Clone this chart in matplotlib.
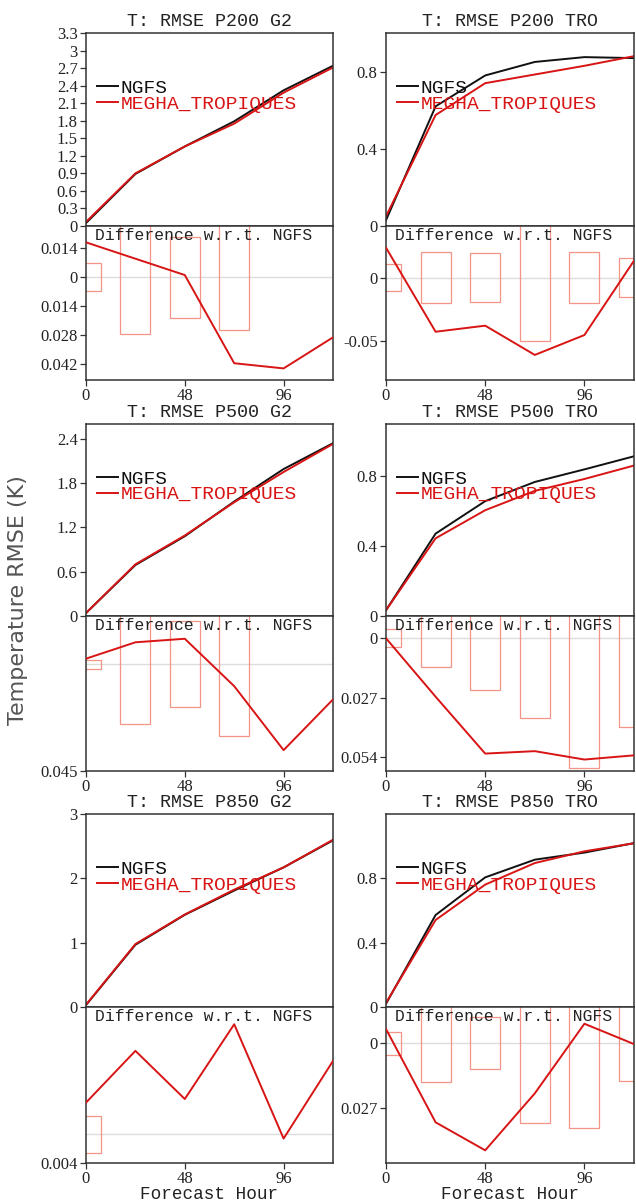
import numpy as np
import matplotlib
matplotlib.use("Agg")
import matplotlib.pyplot as plt

hours = [0, 24, 48, 72, 96, 120]

# RMSE values (K)
ngfs_p200_g2 = [0.05, 0.89, 1.36, 1.79, 2.32, 2.74]
megha_p200_g2 = [0.07, 0.90, 1.36, 1.75, 2.28, 2.71]
ngfs_p200_tro = [0.03, 0.62, 0.78, 0.85, 0.875, 0.87]
megha_p200_tro = [0.05, 0.575, 0.74, 0.785, 0.83, 0.88]
ngfs_p500_g2 = [0.04, 0.69, 1.08, 1.55, 1.99, 2.34]
megha_p500_g2 = [0.04, 0.70, 1.09, 1.54, 1.95, 2.33]
ngfs_p500_tro = [0.033, 0.472, 0.658, 0.768, 0.84, 0.915]
megha_p500_tro = [0.033, 0.445, 0.606, 0.717, 0.785, 0.862]
ngfs_p850_g2 = [0.03, 0.967, 1.433, 1.81, 2.17, 2.59]
megha_p850_g2 = [0.035, 0.978, 1.438, 1.825, 2.17, 2.60]
ngfs_p850_tro = [0.02, 0.572, 0.806, 0.916, 0.96, 1.019]
megha_p850_tro = [0.026, 0.541, 0.761, 0.895, 0.968, 1.018]

# Differences w.r.t. NGFS
diff_p200_g2 = [0.0169, 0.0090, 0.0011, -0.0415, -0.044, -0.029]
diff_p200_tro = [0.0237, -0.0427, -0.0379, -0.061, -0.0453, 0.0134]
diff_p500_g2 = [0.0024, 0.0093, 0.0108, -0.0092, -0.0362, -0.0148]
diff_p500_tro = [0.0, -0.0265, -0.0523, -0.0512, -0.055, -0.0531]
diff_p850_g2 = [0.0044, 0.0116, 0.0049, 0.0153, -0.0006, 0.0102]
diff_p850_tro = [0.0059, -0.0331, -0.0448, -0.021, 0.0081, -0.0004]

# Confidence half-ranges (hollow bars)
ci_p200_g2 = [0.0068, 0.0273, 0.0197, 0.0255, np.nan, np.nan]
ci_p200_tro = [0.0107, 0.0201, 0.0194, 0.0498, 0.0201, 0.0154]
ci_p500_g2 = [0.0018, 0.0251, 0.0182, 0.0303, np.nan, np.nan]
ci_p500_tro = [0.0041, 0.0132, 0.0235, 0.036, 0.059, 0.0401]
ci_p850_g2 = [0.00258, np.nan, np.nan, np.nan, np.nan, np.nan]
ci_p850_tro = [0.0048, 0.0163, 0.0108, 0.0332, 0.0353, 0.0157]

titles = ["T: RMSE P200 G2", "T: RMSE P200 TRO",
          "T: RMSE P500 G2", "T: RMSE P500 TRO",
          "T: RMSE P850 G2", "T: RMSE P850 TRO"]

top_ylims = [(0, 3.3), (0, 1.0), (0, 2.6), (0, 1.1), (0, 3.0), (0, 1.2)]
top_ticks = [[0, 0.3, 0.6, 0.9, 1.2, 1.5, 1.8, 2.1, 2.4, 2.7, 3.0, 3.3],
             [0, 0.4, 0.8],
             [0, 0.6, 1.2, 1.8, 2.4],
             [0, 0.4, 0.8],
             [0, 1, 2, 3],
             [0, 0.4, 0.8]]
diff_ylims = [(-0.0496, 0.0248), (-0.0808, 0.0408), (-0.045, 0.0204),
              (-0.0602, 0.0101), (-0.004, 0.0177), (-0.0501, 0.0151)]
diff_ticks = [[0.014, 0, -0.014, -0.028, -0.042], [0, -0.05], [-0.045],
              [0, -0.027, -0.054], [-0.004], [0, -0.027]]
diff_ticklabels = [["0.014", "0", "0.014", "0.028", "0.042"], ["0", "-0.05"], ["0.045"],
                   ["0", "0.027", "0.054"], ["0.004"], ["0", "0.027"]]

ngfs_all = [ngfs_p200_g2, ngfs_p200_tro, ngfs_p500_g2, ngfs_p500_tro, ngfs_p850_g2, ngfs_p850_tro]
megha_all = [megha_p200_g2, megha_p200_tro, megha_p500_g2, megha_p500_tro, megha_p850_g2, megha_p850_tro]
diff_all = [diff_p200_g2, diff_p200_tro, diff_p500_g2, diff_p500_tro, diff_p850_g2, diff_p850_tro]
ci_all = [ci_p200_g2, ci_p200_tro, ci_p500_g2, ci_p500_tro, ci_p850_g2, ci_p850_tro]

W, H = 636, 1203
fig = plt.figure(figsize=(W / 100, H / 100), dpi=100)
fig.patch.set_facecolor("white")

col_x = [(86, 333), (386, 634)]
row_y = [(33, 226, 380), (424, 616, 771), (814, 1007, 1163)]

MONO = "Liberation Mono"
SERIF = "Liberation Serif"
RED = "#d81414"
BLACK = "#111111"
FRAME = "#333333"
BARC = "#f29486"


def rect(x0, x1, y0, y1):
    return [x0 / W, 1 - y1 / H, (x1 - x0) / W, (y1 - y0) / H]


def style(ax):
    for s in ax.spines.values():
        s.set_color(FRAME)
        s.set_linewidth(1.1)
    ax.tick_params(axis="both", direction="out", length=4, width=0.9, color=FRAME,
                   labelsize=12, pad=2)
    for lab in ax.get_xticklabels() + ax.get_yticklabels():
        lab.set_fontfamily(SERIF)
        lab.set_color("#222222")


for i in range(6):
    r, c = divmod(i, 2)
    x0, x1 = col_x[c]
    yt, ym, yb = row_y[r]
    ax = fig.add_axes(rect(x0, x1, yt, ym))
    axd = fig.add_axes(rect(x0, x1, ym, yb))

    ax.plot(hours, ngfs_all[i], color=BLACK, lw=1.4, label="NGFS")
    ax.plot(hours, megha_all[i], color=RED, lw=1.4, label="MEGHA_TROPIQUES")
    ax.set_xlim(0, 120)
    ax.set_ylim(*top_ylims[i])
    ax.set_yticks(top_ticks[i], [f"{v:g}" for v in top_ticks[i]])
    ax.set_xticks([])
    style(ax)
    ax.set_title(titles[i], fontfamily=MONO, fontsize=13.2, color="#222222", pad=5)
    ax.legend(loc="upper left", bbox_to_anchor=(0.045, 0.76), frameon=False,
              prop={"family": MONO, "size": 14}, handlelength=1.05,
              handletextpad=0.15, labelspacing=-0.1, borderaxespad=0,
              borderpad=0, labelcolor="linecolor")

    axd.axhline(0, color="#dcdcdc", lw=1.0, zorder=1)
    half = np.array(ci_all[i], dtype=float)
    axd.bar(hours, 2 * half, bottom=-half, width=14.6, fill=False,
            edgecolor=BARC, linewidth=0.9, zorder=2)
    axd.plot(hours, diff_all[i], color=RED, lw=1.4, zorder=3)
    axd.set_xlim(0, 120)
    axd.set_ylim(*diff_ylims[i])
    axd.set_yticks(diff_ticks[i], diff_ticklabels[i])
    axd.set_xticks([0, 48, 96], ["0", "48", "96"])
    style(axd)
    axd.text(0.035, 0.985, "Difference w.r.t. NGFS", transform=axd.transAxes,
             ha="left", va="top", fontfamily=MONO, fontsize=11.8, color="#222222")
    if r == 2:
        axd.set_xlabel("Forecast Hour", fontfamily=MONO, fontsize=12.7,
                       color="#222222", labelpad=-1)

fig.text(18 / W, 1 - 600 / H, "Temperature RMSE (K)", rotation=90, ha="center",
         va="center", fontfamily="DejaVu Sans", fontsize=16, color="#555555")

fig.savefig("out.png", dpi=100, facecolor="white")
